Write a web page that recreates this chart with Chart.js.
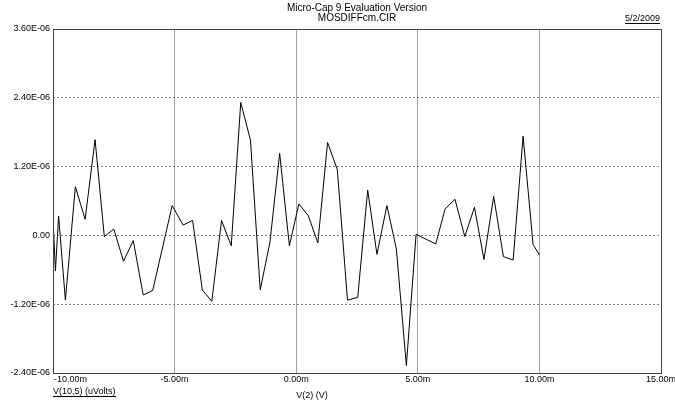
<!DOCTYPE html>
<html>
<head>
<meta charset="utf-8">
<title>MOSDIFFcm.CIR</title>
<script src="https://cdn.jsdelivr.net/npm/chart.js@4.4.1/dist/chart.umd.min.js"></script>
<style>
  html, body { margin: 0; padding: 0; background: #fff; }
  #wrap { width: 675px; height: 403px; }
</style>
</head>
<body>
<div id="wrap"><canvas id="plot" width="675" height="403"></canvas></div>
<script>
// V(2) in mV
var sweepMv = [-10.0, -9.90, -9.77, -9.49, -9.08, -8.68, -8.27, -7.89, -7.50, -7.10,
  -6.70, -6.29, -5.90, -5.10, -4.65, -4.26, -3.86, -3.47, -3.07, -2.67,
  -2.28, -1.88, -1.48, -1.08, -0.68, -0.28, 0.11, 0.50, 0.89, 1.29,
  1.69, 2.11, 2.53, 2.94, 3.32, 3.73, 4.12, 4.53, 4.93, 5.31,
  5.74, 6.12, 6.53, 6.93, 7.33, 7.72, 8.12, 8.52, 8.92, 9.33,
  9.74, 10.0];
// V(10,5) in units of 1E-06
var outE6 = [0.30, -0.62, 0.34, -1.13, 0.85, 0.28, 1.67, -0.02, 0.11, -0.45,
  -0.09, -1.04, -0.96, 0.52, 0.18, 0.26, -0.95, -1.15, 0.26, -0.18,
  2.32, 1.66, -0.95, -0.12, 1.43, -0.18, 0.55, 0.34, -0.13, 1.62,
  1.15, -1.13, -1.08, 0.79, -0.33, 0.52, -0.24, -2.27, 0.02, -0.06,
  -0.15, 0.46, 0.63, -0.02, 0.49, -0.42, 0.68, -0.37, -0.43, 1.73,
  -0.16, -0.34];
var xTicks = [-10, -5, 0, 5, 10, 15];
var yTicks = [-2.4, -1.2, 0, 1.2, 2.4, 3.6];

var titleLines = ['Micro-Cap 9 Evaluation Version', 'MOSDIFFcm.CIR'];
var dateText = '5/2/2009';
var yName = 'V(10,5) (uVolts)';
var xName = 'V(2) (V)';

var FONT = '"Liberation Sans", Arial, sans-serif';
Chart.defaults.font.family = FONT;
Chart.defaults.color = '#000';

var points = sweepMv.map(function (x, i) { return { x: x, y: outE6[i] }; });

function fmtY(v) {
  if (Math.abs(v) < 1e-9) return '0.00';
  return v.toFixed(2) + 'E-06';
}
function fmtX(v) {
  if (Math.abs(v) < 1e-9) v = 0;
  return v.toFixed(2) + 'm';
}

function underlined(ctx, text, x, y, align) {
  ctx.textAlign = align;
  ctx.fillText(text, x, y);
  var w = ctx.measureText(text).width;
  var x0 = align === 'right' ? x - w : (align === 'center' ? x - w / 2 : x);
  ctx.fillRect(Math.round(x0), Math.round(y) + 2, Math.round(w), 1);
}

var decorations = {
  id: 'decorations',
  afterDraw: function (chart) {
    var ctx = chart.ctx, a = chart.chartArea;
    var xs = chart.scales.x;
    ctx.save();
    // frame
    ctx.strokeStyle = '#404040';
    ctx.lineWidth = 1;
    ctx.strokeRect(Math.round(a.left) + 0.5, Math.round(a.top) + 0.5,
      Math.round(a.right - a.left), Math.round(a.bottom - a.top));

    ctx.fillStyle = '#000';
    ctx.textBaseline = 'alphabetic';
    // title
    ctx.font = '10px ' + FONT;
    ctx.textAlign = 'center';
    var cx = (a.left + a.right) / 2;
    ctx.fillText(titleLines[0], cx, 11);
    ctx.fillText(titleLines[1], cx, 21);
    ctx.font = '9px ' + FONT;
    underlined(ctx, dateText, a.right - 1, 21, 'right');

    // x tick labels
    xTicks.forEach(function (v, i) {
      var px = xs.getPixelForValue(v);
      ctx.textAlign = i === 0 ? 'left' : 'center';
      ctx.fillText(fmtX(v), i === 0 ? a.left + 1 : px, a.bottom + 9);
    });
    // axis names
    underlined(ctx, yName, a.left, a.bottom + 21, 'left');
    ctx.textAlign = 'center';
    ctx.fillText(xName, 312, a.bottom + 25);
    ctx.restore();
  }
};

new Chart(document.getElementById('plot'), {
  type: 'line',
  data: {
    datasets: [{
      data: points,
      borderColor: '#000',
      borderWidth: 1,
      pointRadius: 0,
      tension: 0,
      fill: false
    }]
  },
  options: {
    responsive: false,
    animation: false,
    events: [],
    layout: { padding: { top: 29, right: 14, left: 0, bottom: 0 } },
    plugins: { legend: { display: false }, tooltip: { enabled: false } },
    scales: {
      x: {
        type: 'linear',
        min: -10, max: 15,
        afterBuildTicks: function (s) { s.ticks = xTicks.map(function (v) { return { value: v }; }); },
        afterFit: function (s) { s.height = 30; },
        ticks: { display: false },
        border: { display: false },
        grid: { color: '#a0a0a0', lineWidth: 1, drawTicks: false }
      },
      y: {
        min: -2.4, max: 3.6,
        afterBuildTicks: function (s) { s.ticks = yTicks.map(function (v) { return { value: v }; }); },
        afterFit: function (s) { s.width = 53; },
        ticks: {
          font: { size: 9 },
          padding: 3,
          color: '#000',
          callback: function (v) { return fmtY(v); }
        },
        border: { display: false, dash: [2, 2] },
        grid: { color: '#808080', lineWidth: 1, drawTicks: false }
      }
    }
  },
  plugins: [decorations]
});
</script>
</body>
</html>
